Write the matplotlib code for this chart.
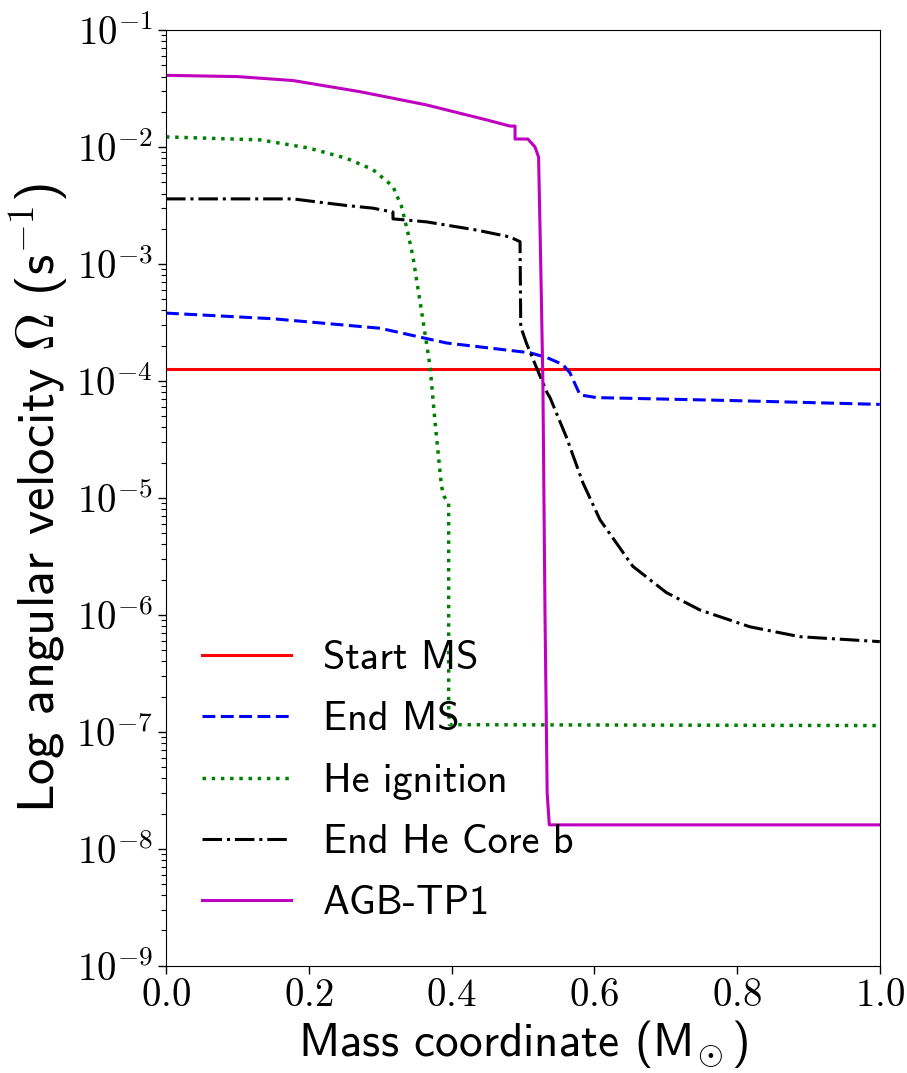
import numpy as np
import matplotlib
matplotlib.use("Agg")
from matplotlib import pyplot as plt
from matplotlib.ticker import FuncFormatter, LogLocator, NullFormatter

plt.rcParams['font.family'] = ['cmss10', 'DejaVu Sans']
plt.rcParams['mathtext.fontset'] = 'cm'
plt.rcParams['axes.unicode_minus'] = False

# ---- profiles: mass coordinate (Msun) vs angular velocity (s^-1) ----
m_start = [0.0, 1.0]
w_start = [1.27e-4, 1.27e-4]

m_endms = [0.0, 0.15, 0.30, 0.393, 0.51, 0.534, 0.556, 0.566, 0.58, 0.603, 0.79, 1.0]
w_endms = [3.80e-4, 3.40e-4, 2.82e-4, 2.11e-4, 1.74e-4, 1.58e-4, 1.38e-4,
           1.17e-4, 7.6e-5, 7.2e-5, 6.8e-5, 6.3e-5]

m_heig = [0.0, 0.132, 0.2, 0.253, 0.29, 0.318, 0.33, 0.339, 0.346, 0.36,
          0.37, 0.377, 0.386, 0.39, 0.396, 0.396, 0.397, 1.0]
w_heig = [1.22e-2, 1.15e-2, 9.8e-3, 8.0e-3, 6.4e-3, 4.6e-3, 3.1e-3, 1.84e-3,
          1.15e-3, 3.3e-4, 1.32e-4, 4.4e-5, 1.25e-5, 1.02e-5, 9.0e-6, 1.6e-7,
          1.15e-7, 1.13e-7]

m_hecore = [0.0, 0.178, 0.21, 0.253, 0.29, 0.302, 0.318, 0.318, 0.365, 0.435,
            0.482, 0.496, 0.497, 0.505, 0.52, 0.534, 0.538, 0.561, 0.584,
            0.608, 0.654, 0.701, 0.748, 0.818, 0.888, 1.0]
w_hecore = [3.6e-3, 3.6e-3, 3.4e-3, 3.16e-3, 3.0e-3, 2.9e-3, 2.78e-3, 2.43e-3,
            2.29e-3, 1.95e-3, 1.70e-3, 1.55e-3, 2.9e-4, 2.1e-4, 1.26e-4,
            7.9e-5, 7.2e-5, 3.3e-5, 1.35e-5, 6.5e-6, 2.6e-6, 1.55e-6,
            1.10e-6, 7.9e-7, 6.5e-7, 5.9e-7]

m_agb = [0.0, 0.1, 0.178, 0.272, 0.365, 0.45, 0.482, 0.489, 0.489, 0.507, 0.517,
         0.522, 0.525, 0.528, 0.531, 0.533, 0.534, 0.537, 1.0]
w_agb = [4.1e-2, 4.0e-2, 3.7e-2, 2.97e-2, 2.29e-2, 1.70e-2, 1.51e-2, 1.51e-2,
         1.17e-2, 1.17e-2, 1.0e-2, 8.2e-3, 1.0e-3, 1.0e-4, 1.0e-6, 1.0e-7,
         3.0e-8, 1.6e-8, 1.6e-8]

labels = ['Start MS', 'End MS', 'He ignition', 'End He Core b', 'AGB-TP1']

fig = plt.figure(figsize=(9.07, 10.73), dpi=100)
ax = fig.add_axes([0.183, 0.100, 0.787, 0.872])

ax.semilogy(m_start, w_start, 'r-', lw=2.2, label=labels[0])
ax.semilogy(m_endms, w_endms, 'b--', lw=2.2, dashes=(4.2, 1.8), label=labels[1])
ax.semilogy(m_heig, w_heig, 'g:', lw=2.5, label=labels[2])
ax.semilogy(m_hecore, w_hecore, 'k-.', lw=2.2, label=labels[3])
ax.semilogy(m_agb, w_agb, 'm-', lw=2.2, label=labels[4])

ax.set_xlim(0, 1)
ax.set_ylim(1e-9, 1e-1)
ax.set_xticks([0.0, 0.2, 0.4, 0.6, 0.8, 1.0])
ax.xaxis.set_major_formatter(FuncFormatter(lambda v, p: r'$%.1f$' % v))
ax.yaxis.set_major_locator(LogLocator(base=10, numticks=12))
ax.yaxis.set_minor_locator(LogLocator(base=10, subs=np.arange(2, 10), numticks=12))
ax.yaxis.set_minor_formatter(NullFormatter())
ax.yaxis.set_major_formatter(FuncFormatter(lambda v, p: r'$10^{%d}$' % round(np.log10(v))))
ax.tick_params(labelsize=28, length=6, width=1)
ax.tick_params(which='minor', length=3.5, width=0.8)

ax.set_xlabel(r'Mass coordinate ($\mathsf{M}_{\!\odot}$)', fontsize=34, labelpad=3)
ax.set_ylabel(r'Log angular velocity $\Omega$ (s$^{-1}$)', fontsize=38, labelpad=4)

ax.legend(loc='lower left', frameon=False, fontsize=29, handlelength=2.2,
          handletextpad=0.8, labelspacing=0.6, bbox_to_anchor=(0.0, 0.008))

fig.savefig('out.png', dpi=100)
